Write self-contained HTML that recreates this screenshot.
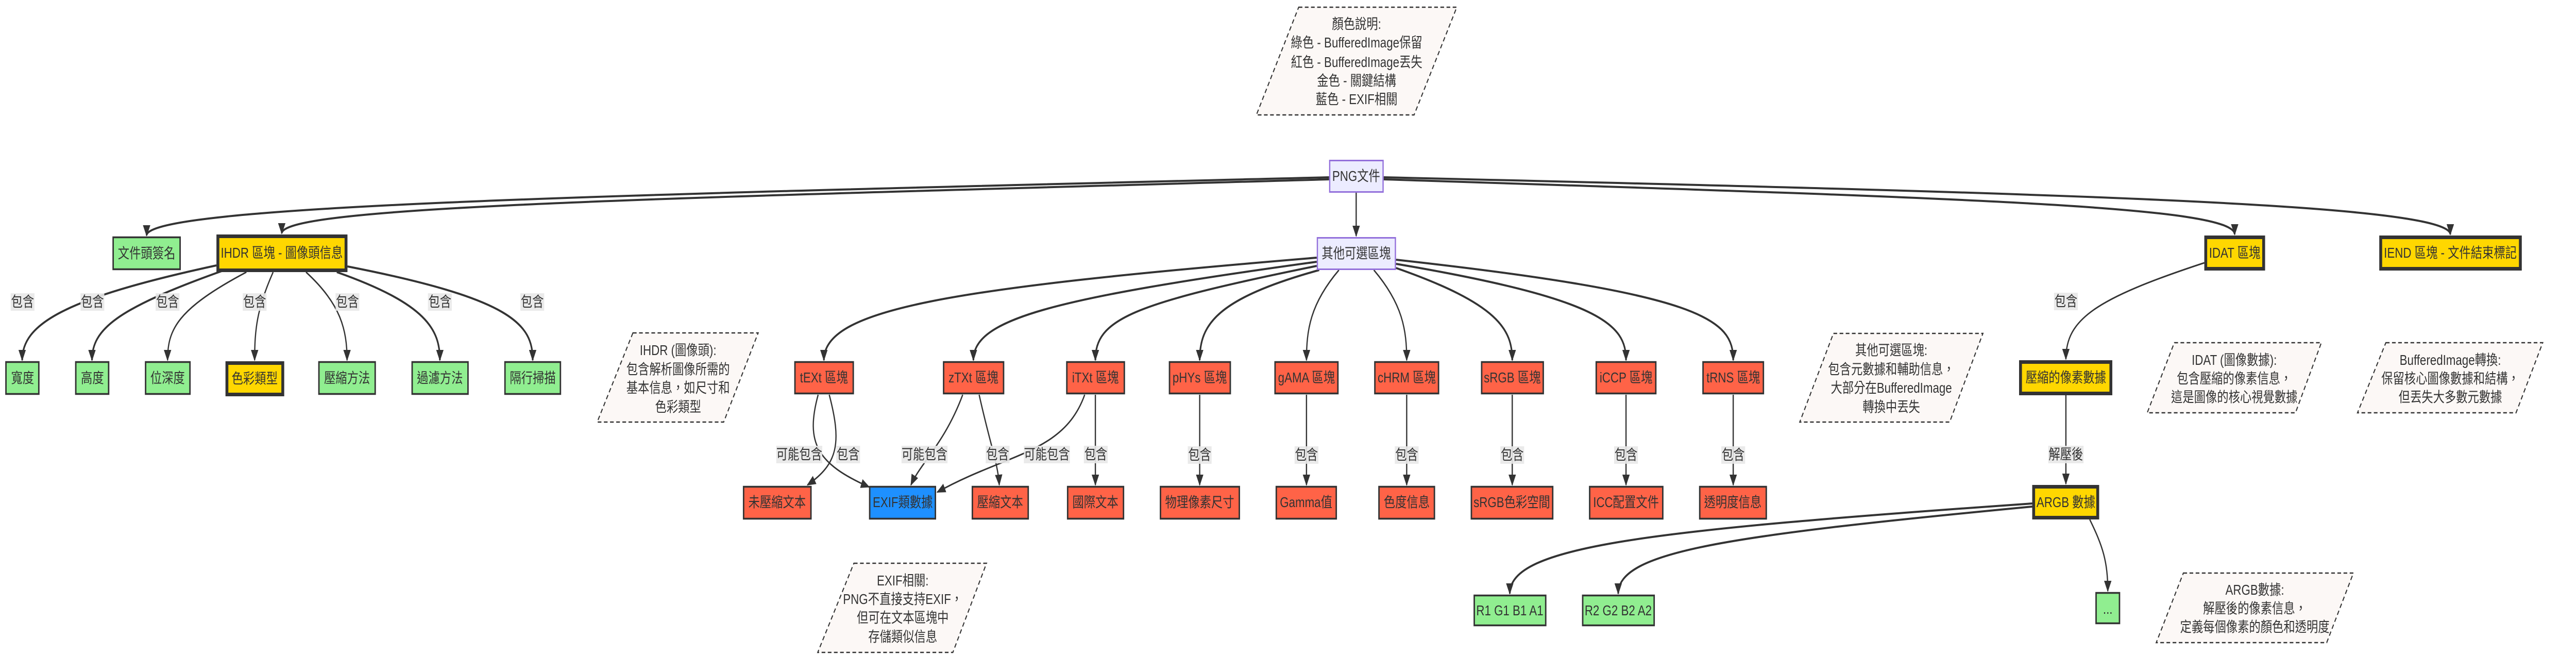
<!DOCTYPE html>
<html><head><meta charset="utf-8"><style>
html,body{margin:0;padding:0;background:#fff;width:100%;height:100%;overflow:hidden;}
svg{display:block;width:100vw;height:100vh;}
text{font-family:"Liberation Sans","Noto Sans CJK TC",sans-serif;font-size:28px;fill:#333;text-anchor:middle;dominant-baseline:central;}
.e{fill:none;stroke:#333;stroke-width:3;}
.t{fill:none;stroke:#333;stroke-width:4;}
.lb{fill:#e8e8e8;opacity:0.9;}
.n{fill:#fcf8f6;stroke:#333;stroke-width:2.5;stroke-dasharray:9 6;}
</style></head><body>
<svg viewBox="0 0 6272 1304" preserveAspectRatio="none" xmlns="http://www.w3.org/2000/svg">
<defs><marker id="a" markerUnits="userSpaceOnUse" markerWidth="22" markerHeight="18" refX="20" refY="9" orient="auto"><path d="M0,0 L22,9 L0,18 z" fill="#333"/></marker></defs>

<polygon class="n" points="3162,14 3547,14 3443,223 3059,223"/>
<text x="3303" y="47">顏色說明:</text>
<text x="3303" y="83">綠色 - BufferedImage保留</text>
<text x="3303" y="121">紅色 - BufferedImage丟失</text>
<text x="3303" y="157">金色 - 關鍵結構</text>
<text x="3303" y="193">藍色 - EXIF相關</text>

<polygon class="n" points="1541,646 1846,646 1762,819 1454,819"/>
<text x="1651" y="680">IHDR (圖像頭):</text>
<text x="1651" y="717">包含解析圖像所需的</text>
<text x="1651" y="753">基本信息，如尺寸和</text>
<text x="1651" y="790">色彩類型</text>

<polygon class="n" points="2079,1093 2402,1093 2320,1266 1991,1266"/>
<text x="2198" y="1127">EXIF相關:</text>
<text x="2198" y="1163">PNG不直接支持EXIF，</text>
<text x="2198" y="1199">但可在文本區塊中</text>
<text x="2198" y="1236">存儲類似信息</text>

<polygon class="n" points="4464,647 4828,647 4747,819 4382,819"/>
<text x="4605" y="680">其他可選區塊:</text>
<text x="4605" y="717">包含元數據和輔助信息，</text>
<text x="4605" y="753">大部分在BufferedImage</text>
<text x="4605" y="790">轉換中丟失</text>

<polygon class="n" points="5294,665 5652,665 5589,801 5228,801"/>
<text x="5440" y="699">IDAT (圖像數據):</text>
<text x="5440" y="735">包含壓縮的像素信息，</text>
<text x="5440" y="771">這是圖像的核心視覺數據</text>

<polygon class="n" points="5809,665 6191,665 6126,801 5740,801"/>
<text x="5966" y="699">BufferedImage轉換:</text>
<text x="5966" y="735">保留核心圖像數據和結構，</text>
<text x="5966" y="771">但丟失大多數元數據</text>

<polygon class="n" points="5316,1112 5730,1112 5665,1247 5250,1247"/>
<text x="5490" y="1145">ARGB數據:</text>
<text x="5490" y="1181">解壓後的像素信息，</text>
<text x="5490" y="1217">定義每個像素的顏色和透明度</text>

<g marker-end="url(#a)">
<path class="t" d="M3236,344 C1500,378 357,398 357,457"/>
<path class="t" d="M3236,348 C1600,385 686,400 686,453"/>
<path class="t" d="M3369,348 C4800,385 5441,400 5441,455"/>
<path class="t" d="M3369,344 C5000,375 5966,395 5966,455"/>
<path class="e" d="M3302,374 L3302,458"/>

<path class="t" d="M3206,500 C2300,560 2006,600 2006,699"/>
<path class="t" d="M3206,508 C2550,580 2370,620 2370,699"/>
<path class="t" d="M3206,516 C2750,590 2667,620 2667,699"/>
<path class="t" d="M3212,524 C2960,580 2921,630 2921,699"/>
<path class="e" d="M3260,524 C3190,590 3181,640 3181,699"/>
<path class="e" d="M3345,524 C3415,590 3425,640 3425,699"/>
<path class="t" d="M3399,520 C3650,590 3682,640 3682,699"/>
<path class="t" d="M3399,512 C3900,580 3959,630 3959,699"/>
<path class="t" d="M3399,504 C4150,570 4220,620 4220,699"/>

<path class="t" d="M527,515 C150,580 54,630 54,699"/>
<path class="t" d="M540,526 C280,600 224,640 224,699"/>
<path class="e" d="M600,528 C430,600 408,640 408,699"/>
<path class="e" d="M665,528 C625,600 620,640 620,699"/>
<path class="e" d="M745,528 C830,590 845,640 845,699"/>
<path class="t" d="M820,528 C1040,590 1071,640 1071,699"/>
<path class="t" d="M846,517 C1250,580 1297,630 1297,699"/>

<path class="e" d="M2019,766 C2050,860 2040,900 1966,941"/>
<path class="e" d="M1992,766 C1960,860 1990,900 2116,945"/>
<path class="e" d="M2344,766 C2300,860 2240,900 2218,941"/>
<path class="e" d="M2384,766 C2410,860 2430,900 2433,941"/>
<path class="e" d="M2641,766 C2590,880 2450,880 2282,955"/>
<path class="e" d="M2667,766 L2667,941"/>

<path class="e" d="M2921,766 L2921,941"/>
<path class="e" d="M3181,766 L3181,941"/>
<path class="e" d="M3425,766 L3425,941"/>
<path class="e" d="M3682,766 L3682,941"/>
<path class="e" d="M3959,766 L3959,941"/>
<path class="e" d="M4220,766 L4220,941"/>

<path class="e" d="M5367,510 C5100,580 5030,620 5030,697"/>
<path class="e" d="M5030,767 L5030,939"/>
<path class="t" d="M4948,977 C4000,1030 3676,1060 3676,1152"/>
<path class="t" d="M4948,983 C4200,1040 3940,1070 3940,1152"/>
<path class="e" d="M5088,1008 C5120,1060 5132,1090 5132,1147"/>
</g>

<g>
<rect class="lb" x="26" y="569" width="58" height="34"/><text x="55" y="586">包含</text>
<rect class="lb" x="196" y="569" width="58" height="34"/><text x="225" y="586">包含</text>
<rect class="lb" x="379" y="569" width="58" height="34"/><text x="408" y="586">包含</text>
<rect class="lb" x="591" y="569" width="58" height="34"/><text x="620" y="586">包含</text>
<rect class="lb" x="817" y="569" width="58" height="34"/><text x="846" y="586">包含</text>
<rect class="lb" x="1042" y="569" width="58" height="34"/><text x="1071" y="586">包含</text>
<rect class="lb" x="1267" y="569" width="58" height="34"/><text x="1296" y="586">包含</text>

<rect class="lb" x="1890" y="865" width="112" height="34"/><text x="1946" y="882">可能包含</text>
<rect class="lb" x="2036" y="865" width="58" height="34"/><text x="2065" y="882">包含</text>
<rect class="lb" x="2195" y="865" width="112" height="34"/><text x="2251" y="882">可能包含</text>
<rect class="lb" x="2400" y="865" width="58" height="34"/><text x="2429" y="882">包含</text>
<rect class="lb" x="2493" y="865" width="112" height="34"/><text x="2549" y="882">可能包含</text>
<rect class="lb" x="2639" y="865" width="58" height="34"/><text x="2668" y="882">包含</text>

<rect class="lb" x="2892" y="866" width="58" height="34"/><text x="2921" y="883">包含</text>
<rect class="lb" x="3152" y="866" width="58" height="34"/><text x="3181" y="883">包含</text>
<rect class="lb" x="3396" y="866" width="58" height="34"/><text x="3425" y="883">包含</text>
<rect class="lb" x="3653" y="866" width="58" height="34"/><text x="3682" y="883">包含</text>
<rect class="lb" x="3930" y="866" width="58" height="34"/><text x="3959" y="883">包含</text>
<rect class="lb" x="4191" y="866" width="58" height="34"/><text x="4220" y="883">包含</text>

<rect class="lb" x="5001" y="568" width="58" height="34"/><text x="5030" y="585">包含</text>
<rect class="lb" x="4987" y="865" width="86" height="34"/><text x="5030" y="882">解壓後</text>
</g>

<g fill="#ECECFF" stroke="#9370DB" stroke-width="3">
<rect x="3237.5" y="311.5" width="130" height="61"/>
<rect x="3207.5" y="461.5" width="190" height="61"/>
</g>
<text x="3302" y="342">PNG文件</text>
<text x="3302" y="492">其他可選區塊</text>

<g fill="#90EE90" stroke="#333" stroke-width="3.5">
<rect x="275.5" y="460.5" width="163" height="62"/>
<rect x="14.5" y="702.5" width="80" height="62"/>
<rect x="184.5" y="702.5" width="80" height="62"/>
<rect x="354.5" y="702.5" width="108" height="62"/>
<rect x="776.5" y="702.5" width="137" height="62"/>
<rect x="1003.5" y="702.5" width="136" height="62"/>
<rect x="1229.5" y="702.5" width="135" height="62"/>
<rect x="3589.5" y="1155.5" width="174" height="58"/>
<rect x="3853.5" y="1155.5" width="174" height="58"/>
<rect x="5103.5" y="1150.5" width="57" height="59"/>
</g>
<text x="357" y="492">文件頭簽名</text>
<text x="55" y="734">寬度</text>
<text x="225" y="734">高度</text>
<text x="408" y="734">位深度</text>
<text x="845" y="734">壓縮方法</text>
<text x="1071" y="734">過濾方法</text>
<text x="1297" y="734">隔行掃描</text>
<text x="3676" y="1185">R1 G1 B1 A1</text>
<text x="3940" y="1185">R2 G2 B2 A2</text>
<text x="5132" y="1182">...</text>

<g fill="#FFD700" stroke="#333" stroke-width="7">
<rect x="530.5" y="458.5" width="312" height="66"/>
<rect x="552.5" y="704.5" width="136" height="61"/>
<rect x="5370.5" y="460.5" width="141" height="61"/>
<rect x="5796.5" y="460.5" width="340" height="61"/>
<rect x="4919.5" y="702.5" width="220" height="61"/>
<rect x="4951.5" y="944.5" width="156" height="60"/>
</g>
<text x="686" y="491">IHDR 區塊 - 圖像頭信息</text>
<text x="620" y="735">色彩類型</text>
<text x="5441" y="491">IDAT 區塊</text>
<text x="5966" y="491">IEND 區塊 - 文件結束標記</text>
<text x="5030" y="733">壓縮的像素數據</text>
<text x="5030" y="975">ARGB 數據</text>

<g fill="#FF6347" stroke="#333" stroke-width="3.5">
<rect x="1935.5" y="702.5" width="142" height="61"/>
<rect x="2297.5" y="702.5" width="146" height="61"/>
<rect x="2597.5" y="702.5" width="140" height="61"/>
<rect x="2847.5" y="702.5" width="148" height="61"/>
<rect x="3104.5" y="702.5" width="153" height="61"/>
<rect x="3347.5" y="702.5" width="155" height="61"/>
<rect x="3607.5" y="702.5" width="150" height="61"/>
<rect x="3886.5" y="702.5" width="145" height="61"/>
<rect x="4146.5" y="702.5" width="147" height="61"/>
<rect x="1810.5" y="944.5" width="164" height="62"/>
<rect x="2367.5" y="944.5" width="136" height="62"/>
<rect x="2599.5" y="944.5" width="136" height="62"/>
<rect x="2825.5" y="944.5" width="192" height="62"/>
<rect x="3107.5" y="944.5" width="146" height="62"/>
<rect x="3357.5" y="944.5" width="135" height="62"/>
<rect x="3582.5" y="944.5" width="198" height="62"/>
<rect x="3870.5" y="944.5" width="178" height="62"/>
<rect x="4138.5" y="944.5" width="162" height="62"/>
</g>
<rect x="2117.5" y="944.5" width="160" height="62" fill="#1E90FF" stroke="#333" stroke-width="3.5"/>
<text x="2006" y="733">tEXt 區塊</text>
<text x="2370" y="733">zTXt 區塊</text>
<text x="2667" y="733">iTXt 區塊</text>
<text x="2921" y="733">pHYs 區塊</text>
<text x="3181" y="733">gAMA 區塊</text>
<text x="3425" y="733">cHRM 區塊</text>
<text x="3682" y="733">sRGB 區塊</text>
<text x="3959" y="733">iCCP 區塊</text>
<text x="4220" y="733">tRNS 區塊</text>
<text x="1892" y="975">未壓縮文本</text>
<text x="2198" y="975">EXIF類數據</text>
<text x="2435" y="975">壓縮文本</text>
<text x="2667" y="975">國際文本</text>
<text x="2921" y="975">物理像素尺寸</text>
<text x="3180" y="975">Gamma值</text>
<text x="3425" y="975">色度信息</text>
<text x="3681" y="975">sRGB色彩空間</text>
<text x="3959" y="975">ICC配置文件</text>
<text x="4219" y="975">透明度信息</text>
</svg>
</body></html>
